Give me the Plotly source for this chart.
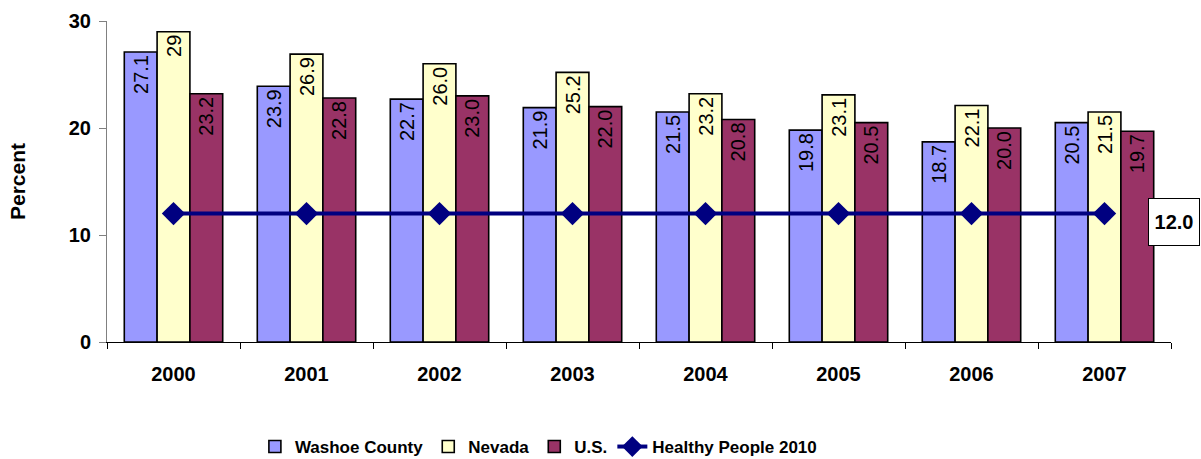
import plotly.graph_objects as go

years = ["2000", "2001", "2002", "2003", "2004", "2005", "2006", "2007"]
washoe = [27.1, 23.9, 22.7, 21.9, 21.5, 19.8, 18.7, 20.5]
nevada = [29, 26.9, 26.0, 25.2, 23.2, 23.1, 22.1, 21.5]
us = [23.2, 22.8, 23.0, 22.0, 20.8, 20.5, 20.0, 19.7]
healthy = [12.0] * 8
y_ticks = [0, 10, 20, 30]

washoe_txt = ["%.1f" % v for v in washoe]
nevada_txt = ["29"] + ["%.1f" % v for v in nevada[1:]]
us_txt = ["%.1f" % v for v in us]

fig = go.Figure()
for name, vals, txt, col in [
    ("Washoe County", washoe, washoe_txt, "#9999FF"),
    ("Nevada", nevada, nevada_txt, "#FFFFCC"),
    ("U.S.", us, us_txt, "#993366"),
]:
    fig.add_trace(go.Bar(
        x=years, y=vals, name="<b>%s</b>" % name, text=txt,
        textposition="inside", insidetextanchor="end", textangle=-90,
        textfont=dict(family="Arial", size=20, color="black"),
        marker=dict(color=col, line=dict(color="black", width=1.6)),
    ))

fig.add_trace(go.Scatter(
    x=years, y=healthy, name="<b>Healthy People 2010</b>", mode="lines+markers",
    line=dict(color="#000080", width=4),
    marker=dict(symbol="diamond", size=18, color="#000080"),
))

fig.add_annotation(
    x=0.9785, xref="paper", y=healthy[-1], yref="y", xanchor="left",
    yshift=-8, text="<b>12.0</b>", showarrow=False,
    width=44, height=40, borderpad=3,
    font=dict(family="Arial", size=20, color="black"),
    bordercolor="black", borderwidth=1, bgcolor="white",
)

fig.update_layout(
    width=1201, height=459,
    margin=dict(l=107, r=30, t=21, b=117, autoexpand=False),
    plot_bgcolor="white", paper_bgcolor="white",
    barmode="group", bargap=0.26, bargroupgap=0,
    font=dict(family="Arial", color="black"),
    showlegend=True,
    legend=dict(orientation="h", x=0.139, y=-0.271, xanchor="left", yanchor="top",
                font=dict(family="Arial", size=17, color="black"),
                traceorder="normal"),
    uniformtext=dict(minsize=20, mode="show"),
)
fig.update_yaxes(
    range=[0, 30], tickvals=y_ticks, ticktext=["<b>%d</b>" % v for v in y_ticks],
    showgrid=False, automargin=False,
    showline=True, linecolor="#808080", linewidth=1,
    ticks="outside", ticklen=7, tickcolor="#808080",
    tickfont=dict(family="Arial", size=20, color="black"),
    ticklabelstandoff=4,
    title=dict(text="<b>Percent</b>", font=dict(family="Arial", size=21, color="black"), standoff=37),
)
fig.update_xaxes(
    showgrid=False, showline=True, linecolor="black", linewidth=1, automargin=False,
    ticks="outside", tickson="boundaries", ticklen=6, tickcolor="black",
    tickfont=dict(family="Arial", size=20, color="black"),
    tickprefix="<b>", ticksuffix="</b>", ticklabelstandoff=14,
)

fig.write_html("out.html", config={"displayModeBar": False},
               post_script="document.body.style.margin='0px';")
